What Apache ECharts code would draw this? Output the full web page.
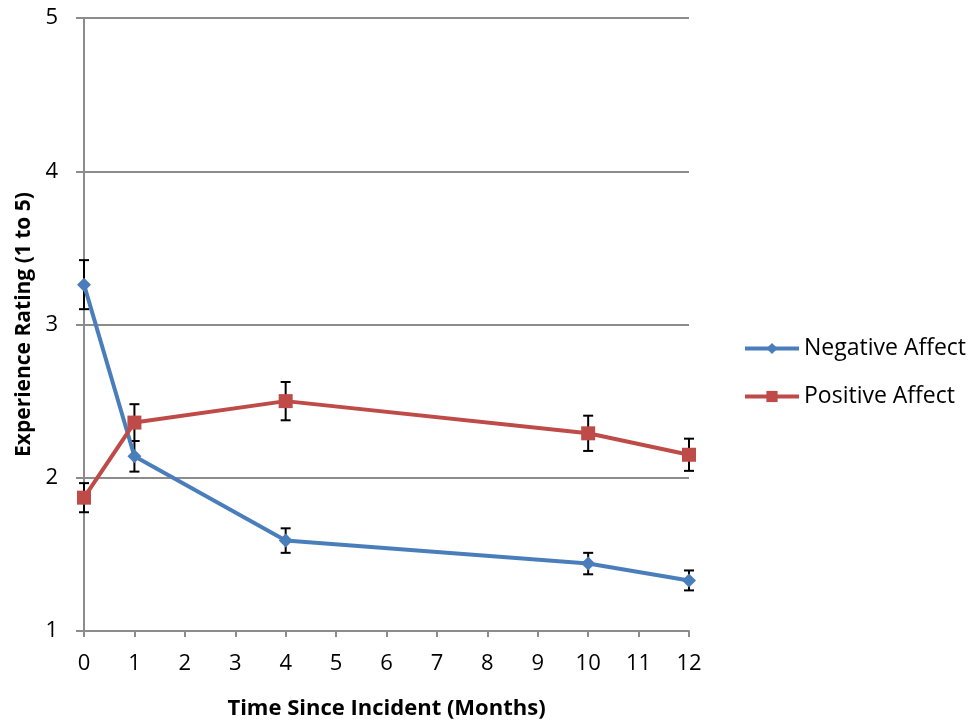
<!DOCTYPE html>
<html>
<head>
<meta charset="utf-8">
<script src="https://cdn.jsdelivr.net/npm/echarts@6/dist/echarts.min.js"></script>
<style>
  html, body { margin: 0; padding: 0; background: #fff; }
  #main { width: 972px; height: 721px; }
</style>
</head>
<body>
<div id="main"></div>
<script>
var months = [0, 1, 4, 10, 12];
var negative = [3.26, 2.14, 1.59, 1.44, 1.33];
var negativeErr = [0.16, 0.10, 0.08, 0.07, 0.065];
var positive = [1.87, 2.36, 2.50, 2.29, 2.15];
var positiveErr = [0.095, 0.12, 0.125, 0.115, 0.105];

var chart = echarts.init(document.getElementById('main'));

function pairs(xs, ys) {
  return xs.map(function (x, i) { return [x, ys[i]]; });
}
function errData(xs, ys, es) {
  return xs.map(function (x, i) { return [x, ys[i] - es[i], ys[i] + es[i]]; });
}

// error bar: vertical line with caps
function renderErr(params, api) {
  var x = api.value(0);
  var lo = api.coord([x, api.value(1)]);
  var hi = api.coord([x, api.value(2)]);
  var half = 5;
  var style = { stroke: '#000', lineWidth: 2 };
  return {
    type: 'group',
    children: [
      { type: 'line', shape: { x1: hi[0], y1: hi[1], x2: lo[0], y2: lo[1] }, style: style },
      { type: 'line', shape: { x1: hi[0] - half, y1: hi[1], x2: hi[0] + half, y2: hi[1] }, style: style },
      { type: 'line', shape: { x1: lo[0] - half, y1: lo[1], x2: lo[0] + half, y2: lo[1] }, style: style }
    ]
  };
}

var font = '"Open Sans", Lato, sans-serif';
var gray = '#8c8c8c';

var option = {
  animation: false,
  textStyle: { fontFamily: font },
  grid: { left: 84, right: 283, top: 18, bottom: 90, outerBoundsMode: 'none', containLabel: false },
  legend: {
    orient: 'vertical',
    left: 743,
    top: 337,
    padding: 0,
    itemGap: 25,
    itemWidth: 54,
    itemHeight: 14,
    data: ['Negative Affect', 'Positive Affect'],
    lineStyle: { width: 4 },
    textStyle: { fontSize: 23, color: '#000', fontFamily: font }
  },
  xAxis: {
    type: 'value',
    min: 0,
    max: 12,
    interval: 1,
    name: 'Time Since Incident (Months)',
    nameLocation: 'middle',
    nameGap: 67,
    nameTextStyle: { fontSize: 22, fontWeight: 'bold', color: '#000' },
    axisLine: { show: true, lineStyle: { color: gray, width: 2 } },
    axisTick: { show: true, length: 6, lineStyle: { color: gray, width: 2 } },
    axisLabel: { fontSize: 22, color: '#000', margin: 22 },
    splitLine: { show: false }
  },
  yAxis: {
    type: 'value',
    min: 1,
    max: 5,
    interval: 1,
    name: 'Experience Rating (1 to 5)',
    nameLocation: 'middle',
    nameGap: 49,
    nameTextStyle: { fontSize: 21, fontWeight: 'bold', color: '#000' },
    axisLine: { show: true, lineStyle: { color: gray, width: 2 } },
    axisTick: { show: true, length: 8, lineStyle: { color: gray, width: 2 } },
    axisLabel: { fontSize: 22, color: '#000', margin: 26 },
    splitLine: { show: true, lineStyle: { color: gray, width: 2 } }
  },
  series: [
    {
      name: 'Negative Affect',
      type: 'line',
      data: pairs(months, negative),
      symbol: 'diamond',
      symbolSize: 14,
      z: 3,
      lineStyle: { color: '#4a7ebb', width: 4 },
      itemStyle: { color: '#4a7ebb' }
    },
    {
      name: 'Positive Affect',
      type: 'line',
      data: pairs(months, positive),
      symbol: 'rect',
      symbolSize: 14,
      z: 3,
      lineStyle: { color: '#be4b48', width: 4 },
      itemStyle: { color: '#be4b48' }
    },
    {
      type: 'custom',
      renderItem: renderErr,
      data: errData(months, negative, negativeErr),
      encode: { x: 0, y: [1, 2] },
      z: 2,
      silent: true
    },
    {
      type: 'custom',
      renderItem: renderErr,
      data: errData(months, positive, positiveErr),
      encode: { x: 0, y: [1, 2] },
      z: 2,
      silent: true
    }
  ]
};

chart.setOption(option);
</script>
</body>
</html>
